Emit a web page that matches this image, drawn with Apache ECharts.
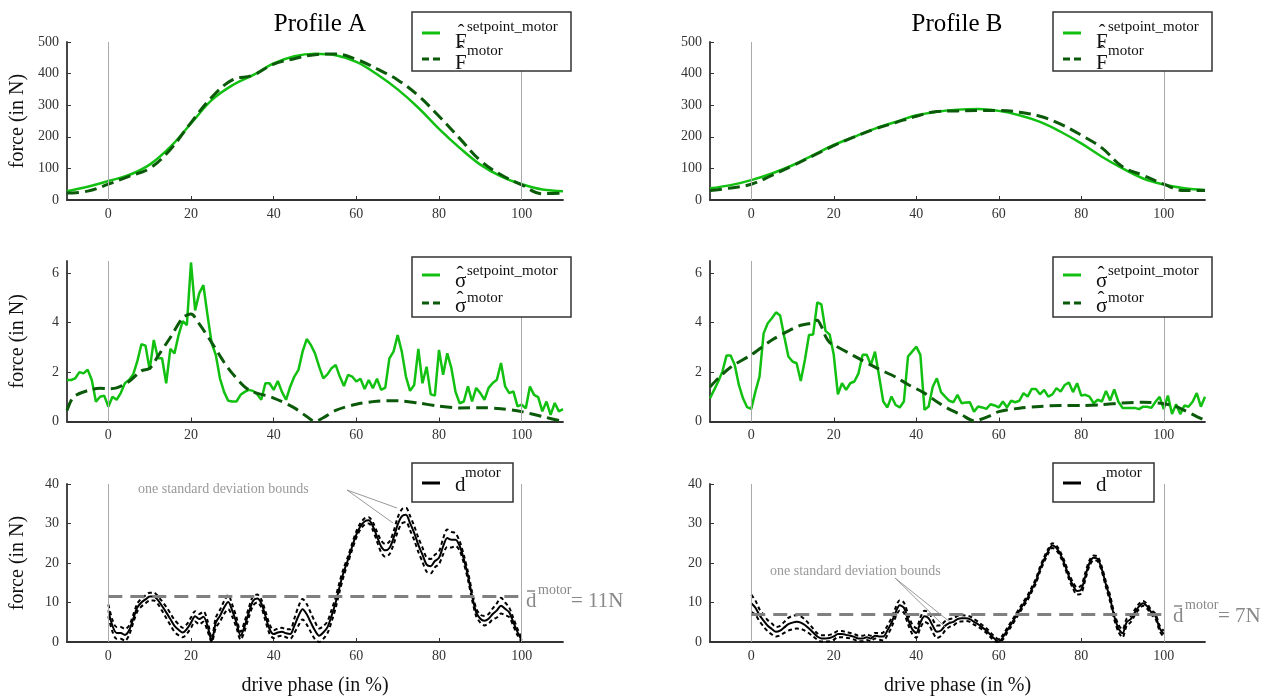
<!DOCTYPE html>
<html>
<head>
<meta charset="utf-8">
<script src="https://cdn.jsdelivr.net/npm/echarts@6/dist/echarts.min.js"></script>
<style>html,body{margin:0;background:#fff}#chart{width:1276px;height:697px}</style>
</head>
<body>
<div id="chart"></div>
<script>
// force profiles, read every 5 % of the drive phase
var phase5 = [-10,-5,0,5,10,15,20,25,30,35,40,45,50,55,60,65,70,75,80,85,90,95,100,105,110];
var fSetA = [28,42,60,79,112,168,242,316,363,395,432,455,463,458,437,398,350,292,225,165,112,75,50,33,28];
var fMotA = [22,28,50,75,100,160,245,325,380,395,430,447,460,462,445,415,380,330,265,195,125,80,48,20,22];
var fSetB = [37,47,63,84,110,142,174,200,226,247,268,279,286,288,282,268,247,216,179,137,100,68,49,37,32];
var fMotB = [30,38,50,78,108,140,172,200,225,245,265,280,282,283,283,278,265,240,205,165,105,78,50,30,30];

// standard deviations, setpoint every 1 % from -10 to 110
var sSetA = [1.68,1.68,1.75,2.0,1.95,2.1,1.68,0.8,1.0,1.05,
  0.6,1.0,0.88,1.15,1.55,1.68,1.9,2.43,3.13,3.07,
  2.09,3.3,2.56,2.56,1.55,2.94,2.76,3.5,4.07,3.9,
  6.44,4.5,5.2,5.52,4.3,3.17,2.7,1.75,1.2,0.84,
  0.81,0.81,1.08,1.2,1.28,1.24,1.1,0.88,1.55,1.55,
  1.28,1.64,1.2,0.88,1.41,1.82,2.09,2.83,3.34,3.1,
  2.76,2.22,1.75,1.91,2.16,2.29,1.82,1.44,1.89,1.82,
  1.62,1.73,1.32,1.68,1.35,1.73,1.28,1.37,2.56,2.83,
  3.5,2.83,1.82,1.24,1.48,2.94,1.55,2.22,1.1,1.05,
  2.9,1.89,2.76,2.16,1.2,0.74,0.81,1.42,0.81,1.36,
  1.15,0.88,1.36,1.56,1.69,2.37,1.42,1.15,1.22,0.61,
  0.68,0.54,1.42,1.08,0.99,0.41,0.81,0.27,0.75,0.41,0.5];
var sSetB = [0.94,1.28,1.62,2.02,2.67,2.67,2.29,1.48,0.94,0.58,
  0.51,1.21,1.82,3.57,3.98,4.18,4.42,4.29,3.44,2.63,
  2.43,2.36,1.64,2.49,3.5,3.52,4.82,4.74,3.67,3.53,
  2.7,1.1,1.55,1.28,1.55,1.62,1.95,2.7,2.7,2.29,
  2.83,1.82,0.81,0.57,1.01,0.67,0.57,0.81,2.63,2.83,
  3.03,2.7,0.47,0.61,1.41,1.75,1.19,1.01,0.84,0.78,
  1.08,0.74,0.77,0.78,0.4,0.61,0.57,0.51,0.7,0.65,
  0.57,0.81,0.57,0.84,0.78,0.84,1.15,1.01,1.32,1.32,
  1.1,1.28,1.01,1.1,1.35,1.21,1.48,1.58,1.19,1.55,
  1.05,1.08,1.01,0.74,0.88,0.81,1.24,0.85,1.3,0.8,
  0.55,0.55,0.55,0.55,0.5,0.6,0.6,0.55,0.8,1.0,
  0.5,1.05,0.3,0.7,0.3,0.65,0.6,0.8,1.15,0.6,1.0];

// motor standard deviation, smooth curves read at these phases
var phaseSA = [-10,-9,-8,-5,-2,0,2,5,8,10,12,15,18,20,22,25,28,30,33,35,40,45,48,50,52,55,60,65,70,75,80,85,90,95,100,105,110];
var sMotA = [0.45,0.85,1.05,1.25,1.35,1.33,1.36,1.62,2.05,2.15,2.65,3.4,4.2,4.35,3.95,3.2,2.4,1.95,1.4,1.2,0.95,0.55,0.2,0.0,0.15,0.45,0.7,0.82,0.84,0.75,0.62,0.55,0.56,0.52,0.4,0.2,0.0];
var phaseSB = [-10,-8,-5,0,5,10,12,15,16,17,18,19,20,25,30,35,38,42,45,48,51,54,55,58,60,65,70,75,80,85,90,95,100,103,105,108,110];
var sMotB = [1.4,1.75,2.2,2.7,3.3,3.75,3.9,4.0,4.1,3.85,3.45,3.2,3.1,2.65,2.2,1.8,1.5,1.15,0.8,0.5,0.27,0.03,0.05,0.24,0.4,0.54,0.61,0.65,0.65,0.68,0.75,0.78,0.72,0.6,0.45,0.2,0.05];

// motor deviation d, every 1 % from 0 to 100, with its standard deviation
var dA = [8.0,4.1,2.3,2.3,1.8,2.9,5.8,8.7,10,10.8,
  11.5,11.5,10.6,9.1,7.5,5.8,4.1,3.1,2.4,3.3,
  4.9,6.5,5.8,6.4,4.1,0.3,4.9,6.6,8.7,10.1,
  7.9,4.9,1.6,4.1,7.5,10.4,11,9.8,6.6,3.3,
  2.0,2.4,2.6,2.2,2.0,4.1,6.6,8.3,7.0,4.9,
  2.9,1.6,2.4,3.7,6.6,10,14.2,17.9,20.9,24.2,
  27.2,29.3,30.5,30.8,29.3,26.7,24.2,23.2,23.8,26.3,
  29.7,31.8,32.2,30.1,27.6,24.6,22.1,19.6,19.2,20.5,
  21.3,24.2,26.3,25.9,25.9,24.3,21,16.8,11.7,7.5,
  5.9,5.4,5.9,7.1,8.0,9.2,8.4,7.5,5.0,2.5,0.4];
var sdA = [1.5,1.5,1.5,1.5,1.5,1.2,1.0,1.0,1.0,1.0,
  1.0,1.0,1.0,1.2,1.4,1.5,1.5,1.4,1.2,1.2,
  1.3,1.3,1.3,1.3,1.3,0.6,1.3,1.5,1.6,1.8,
  1.5,1.3,1.0,1.2,1.2,1.2,1.0,1.0,1.2,1.2,
  1.0,1.0,1.0,1.0,1.2,1.8,2.4,2.6,2.6,2.4,
  2.2,1.8,1.6,1.5,1.5,1.4,1.2,1.0,0.8,0.8,
  0.8,0.8,0.8,0.8,1.0,1.2,1.5,1.6,1.6,1.6,
  1.8,1.8,1.8,1.8,1.8,1.8,1.8,1.8,1.8,1.6,
  1.6,2.0,2.2,2.0,1.6,1.2,1.0,1.0,1.0,1.0,
  1.0,1.2,1.2,1.4,1.8,2.0,1.6,1.2,1.0,0.8,0.5];
var dB = [9.8,8.7,6.8,5.4,4.1,3.3,2.6,2.9,3.7,4.5,
  4.9,5.1,4.9,4.3,3.4,2.4,1.4,0.9,0.9,1.0,
  1.4,2.0,2.0,1.8,1.6,1.3,0.9,0.9,1.2,0.9,
  1.6,1.4,1.4,2.9,4.9,7.5,9.3,8.7,5.8,3.3,
  2.3,4.9,6.5,6.0,4.1,2.6,2.9,4.1,4.8,5.1,
  5.8,6.0,6.0,5.8,5.1,4.5,3.7,2.9,1.8,0.8,
  0.1,1.2,2.9,4.5,6.2,7.9,9.6,11.2,13.3,15.4,
  18.4,20.9,23.0,24.4,23.8,22.1,19.6,16.7,14.3,12.9,
  13.3,16.7,20.0,21.3,21.0,18.4,14.5,11.0,6.5,3.5,
  2.2,5.0,5.8,7.5,9.0,9.8,9.0,7.5,6.5,3.5,2.0];
var sdB = [2.2,1.8,1.5,1.5,1.4,1.4,1.2,1.2,1.4,1.6,
  1.7,1.7,1.6,1.4,1.2,1.0,0.8,0.8,0.8,0.8,
  0.8,0.8,0.8,0.7,0.7,0.7,0.7,0.7,0.7,0.7,
  0.7,0.8,1.0,1.2,1.2,1.2,1.3,1.3,1.3,1.2,
  1.2,1.3,1.4,1.5,1.6,1.6,1.4,1.2,1.0,0.9,
  0.8,0.8,0.7,0.7,0.7,0.6,0.6,0.6,0.6,0.6,
  0.6,0.6,0.6,0.6,0.6,0.6,0.6,0.6,0.6,0.6,
  0.6,0.6,0.6,0.6,0.6,0.6,0.7,0.7,0.8,0.9,
  1.0,0.9,0.7,0.6,0.6,0.6,0.7,0.8,0.8,0.9,
  1.0,0.9,0.8,0.7,0.7,0.6,0.6,0.6,0.6,0.7,0.8];
var meanA = 11.5, meanB = 7;

var xTicks = [0,20,40,60,80,100];
var yTicks = [[0,100,200,300,400,500],[0,2,4,6],[0,10,20,30,40]];
var yMax = [500, 6.5, 40];

var SERIF = '"Liberation Serif", "Times New Roman", serif';
var GREEN = '#12c012', DGREEN = '#0a5a0a', AXIS = '#333';

function range(a, b){ var r = []; for (var i = a; i <= b; i++) r.push(i); return r; }
var phase1 = range(-10, 110), phaseD = range(0, 100);
function pairs(xs, ys){ return xs.map(function(x, i){ return [x, ys[i]]; }); }

var tops = [42, 261, 484], heights = [158, 160.5, 159];
var lefts = [67, 710], widths = [496, 495];
var grids = [], xAxes = [], yAxes = [];
for (var r = 0; r < 3; r++) {
  for (var c = 0; c < 2; c++) {
    var gi = r * 2 + c;
    grids.push({left: lefts[c], top: tops[r], width: widths[c], height: heights[r]});
    xAxes.push({
      gridIndex: gi, type: 'value', min: -10, max: 110,
      name: r == 2 ? 'drive phase (in %)' : '', nameLocation: 'middle', nameGap: 34,
      nameTextStyle: {fontFamily: SERIF, fontSize: 20, color: '#111'},
      axisLine: {onZero: false, lineStyle: {color: AXIS, width: 1.8}},
      axisTick: {inside: true, length: 4, customValues: xTicks, lineStyle: {color: AXIS}},
      axisLabel: {customValues: xTicks, fontFamily: SERIF, fontSize: 14, color: '#333', margin: 7},
      splitLine: {show: false}
    });
    yAxes.push({
      gridIndex: gi, type: 'value', min: 0, max: yMax[r],
      name: c == 0 ? 'force (in N)' : '', nameLocation: 'middle', nameGap: 39,
      nameTextStyle: {fontFamily: SERIF, fontSize: 20, color: '#111'},
      axisLine: {show: true, onZero: false, lineStyle: {color: AXIS, width: 1.8}},
      axisTick: {show: true, inside: true, length: 4, customValues: yTicks[r], lineStyle: {color: AXIS}},
      axisLabel: {customValues: yTicks[r], fontFamily: SERIF, fontSize: 14, color: '#333', margin: 8},
      splitLine: {show: false}
    });
  }
}

var guide = {silent: true, symbol: 'none', label: {show: false},
  lineStyle: {color: '#aaa', width: 1, type: 'solid'}, data: [{xAxis: 0}, {xAxis: 100}]};

function line(gi, data, color, width, dash, smooth, extra){
  var s = {type: 'line', xAxisIndex: gi, yAxisIndex: gi, data: data, showSymbol: false,
    smooth: smooth, lineStyle: {color: color, width: width, type: dash || 'solid'}, silent: true, animation: false};
  for (var k in extra) s[k] = extra[k];
  return s;
}
function meanLine(v){
  return {silent: true, symbol: 'none', label: {show: false},
    lineStyle: {color: '#808080', width: 3, type: [14, 8]},
    data: [[{coord: [0, v]}, {coord: [100, v]}]]};
}
function bound(d, sd, sign){ return d.map(function(v, i){ return Math.max(0, v + sign * sd[i]); }); }

var series = [
  line(0, pairs(phase5, fSetA), GREEN, 2.5, null, 0.4, {markLine: guide}),
  line(0, pairs(phase5, fMotA), DGREEN, 3, [12, 6], 0.4),
  line(1, pairs(phase5, fSetB), GREEN, 2.5, null, 0.4, {markLine: guide}),
  line(1, pairs(phase5, fMotB), DGREEN, 3, [12, 6], 0.4),
  line(2, pairs(phase1, sSetA), GREEN, 2.5, null, false, {markLine: guide}),
  line(2, pairs(phaseSA, sMotA), DGREEN, 3, [12, 6], 0.3),
  line(3, pairs(phase1, sSetB), GREEN, 2.5, null, false, {markLine: guide}),
  line(3, pairs(phaseSB, sMotB), DGREEN, 3, [12, 6], 0.3),
  line(4, pairs(phaseD, dA), '#000', 2, null, 0.3, {markLine: guide}),
  line(4, pairs(phaseD, bound(dA, sdA, 1)), '#000', 2, [4, 3], 0.3),
  line(4, pairs(phaseD, bound(dA, sdA, -1)), '#000', 2, [4, 3], 0.3, {markLine: meanLine(meanA)}),
  line(5, pairs(phaseD, dB), '#000', 2, null, 0.3, {markLine: guide}),
  line(5, pairs(phaseD, bound(dB, sdB, 1)), '#000', 2, [4, 3], 0.3),
  line(5, pairs(phaseD, bound(dB, sdB, -1)), '#000', 2, [4, 3], 0.3, {markLine: meanLine(meanB)})
];

// graphic helpers for titles, legends and notes
function txt(x, y, s, size, color, align){
  return {type: 'text', x: x, y: y, z: 101, silent: true,
    style: {text: s, fill: color || '#111', font: size + 'px ' + SERIF, align: align || 'left', verticalAlign: 'middle'}};
}
function seg(x1, y1, x2, y2, color, w, dash){
  return {type: 'line', z: 101, silent: true, shape: {x1: x1, y1: y1, x2: x2, y2: y2},
    style: {stroke: color, lineWidth: w, lineDash: dash || null}};
}
function box(x, y, w, h){
  return {type: 'rect', z: 100, silent: true, shape: {x: x, y: y, width: w, height: h},
    style: {fill: '#fff', stroke: '#333', lineWidth: 1.5}};
}
function legendF(bx, by){
  return [box(bx, by, 159, 59),
    seg(bx + 10, by + 21, bx + 28, by + 21, GREEN, 3),
    txt(bx + 43, by + 30, 'F', 21), txt(bx + 49, by + 22, 'ˆ', 20, '#111', 'center'),
    txt(bx + 55, by + 15, 'setpoint_motor', 15),
    seg(bx + 10, by + 47, bx + 28, by + 47, DGREEN, 3, [7, 4]),
    txt(bx + 43, by + 51, 'F', 21), txt(bx + 49, by + 43, 'ˆ', 20, '#111', 'center'),
    txt(bx + 55, by + 39, 'motor', 15)];
}
function legendS(bx, by){
  return [box(bx, by, 159, 60),
    seg(bx + 10, by + 18, bx + 28, by + 18, GREEN, 3),
    txt(bx + 43, by + 24, 'σ', 21), txt(bx + 48, by + 18, 'ˆ', 21, '#111', 'center'),
    txt(bx + 55, by + 14, 'setpoint_motor', 15),
    seg(bx + 10, by + 46, bx + 28, by + 46, DGREEN, 3, [7, 4]),
    txt(bx + 43, by + 49, 'σ', 21), txt(bx + 48, by + 43, 'ˆ', 21, '#111', 'center'),
    txt(bx + 55, by + 41, 'motor', 15)];
}
function legendD(bx, by){
  return [box(bx, by, 101, 39),
    seg(bx + 10, by + 20, bx + 28, by + 20, '#000', 3),
    txt(bx + 43, by + 22, 'd', 21), txt(bx + 53, by + 10, 'motor', 15)];
}
function meanLabel(x, y, s){
  return [txt(x, y, 'd', 21, '#888'), seg(x + 1, y - 10, x + 9, y - 10, '#888', 1.5),
    txt(x + 12, y - 11, 'motor', 14, '#888'), txt(x + 45, y, s, 21, '#888')];
}
function note(x, y, x1, y1, x2, y2, x3, y3){
  return [txt(x, y, 'one standard deviation bounds', 14, '#999'),
    seg(x1, y1, x2, y2, '#999', 1), seg(x1, y1, x3, y3, '#999', 1)];
}

var graphic = [].concat(
  [txt(320, 24, 'Profile A', 25, '#000', 'center'), txt(957, 24, 'Profile B', 25, '#000', 'center')],
  legendF(412, 12), legendF(1053, 12),
  legendS(412, 257), legendS(1053, 257),
  legendD(412, 463), legendD(1053, 463),
  meanLabel(526, 601, '= 11N'), meanLabel(1173, 616, '= 7N'),
  note(138, 489, 347, 490, 397, 508, 393, 523),
  note(770, 571, 895, 578, 950, 622, 945, 627)
);

var chart = echarts.init(document.getElementById('chart'));
chart.setOption({
  animation: false,
  backgroundColor: '#fff',
  grid: grids, xAxis: xAxes, yAxis: yAxes,
  series: series,
  graphic: graphic
});
</script>
</body>
</html>
